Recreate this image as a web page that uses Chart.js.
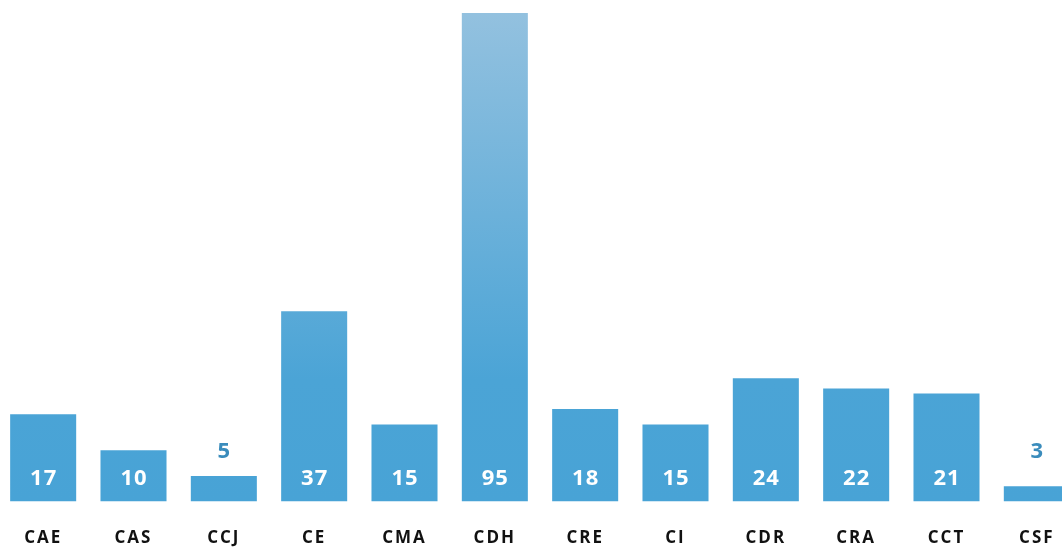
<!DOCTYPE html>
<html>
<head>
<meta charset="utf-8">
<script src="https://cdn.jsdelivr.net/npm/chart.js@4/dist/chart.umd.min.js"></script>
<style>
html,body{margin:0;padding:0;overflow:hidden;background:#fff;width:1062px;height:549px;}
#wrap{position:absolute;left:-2px;top:0;width:1084px;height:549px;}
</style>
</head>
<body>
<div id="wrap"><canvas id="c"></canvas></div>
<script>
const categories = ["CAE","CAS","CCJ","CE","CMA","CDH","CRE","CI","CDR","CRA","CCT","CSF"];
const values = [17,10,5,37,15,95,18,15,24,22,21,3];

const spacingPlugin = {
  id: 'spacing',
  beforeDraw(chart) { chart.ctx.letterSpacing = '2px'; },
  afterDraw(chart) { chart.ctx.letterSpacing = '0px'; }
};

const labelPlugin = {
  id: 'valueLabels',
  afterDatasetsDraw(chart) {
    const ctx = chart.ctx;
    const meta = chart.getDatasetMeta(0);
    const yScale = chart.scales.y;
    const base = yScale.getPixelForValue(0);
    ctx.save();
    ctx.letterSpacing = '1px';
    ctx.font = 'bold 22px "Open Sans"';
    ctx.textAlign = 'center';
    ctx.textBaseline = 'middle';
    meta.data.forEach((bar, i) => {
      const v = values[i];
      const h = base - bar.y;
      if (h > 45) {
        ctx.fillStyle = '#ffffff';
        ctx.fillText(String(v), bar.x + 0.5, base - 23);
      } else {
        ctx.fillStyle = '#3a8cbc';
        ctx.fillText(String(v), bar.x + 0.5, base - 50);
      }
    });
    ctx.restore();
  }
};

new Chart(document.getElementById('c'), {
  type: 'bar',
  data: {
    labels: categories,
    datasets: [{
      data: values,
      backgroundColor: (c) => {
        const area = c.chart.chartArea;
        if (!area) return '#4aa3d6';
        const g = c.chart.ctx.createLinearGradient(0, area.top, 0, area.bottom);
        g.addColorStop(0, '#93c1df');
        g.addColorStop(0.75, '#4ba4d6');
        g.addColorStop(1, '#48a3d6');
        return g;
      },
      borderWidth: 0,
      barPercentage: 1,
      categoryPercentage: 0.731
    }]
  },
  options: {
    responsive: true,
    maintainAspectRatio: false,
    animation: false,
    layout: { padding: { top: 13, bottom: -25, left: 0, right: 0 } },
    plugins: { legend: { display: false }, tooltip: { enabled: false } },
    scales: {
      x: {
        grid: { display: false, drawTicks: false },
        border: { display: false },
        ticks: {
          color: '#111111',
          font: { family: '"Open Sans"', weight: 'bold', size: 17 },
          padding: 26,
          maxRotation: 0
        }
      },
      y: {
        display: false,
        min: 0,
        max: 95
      }
    }
  },
  plugins: [spacingPlugin, labelPlugin]
});
</script>
</body>
</html>
